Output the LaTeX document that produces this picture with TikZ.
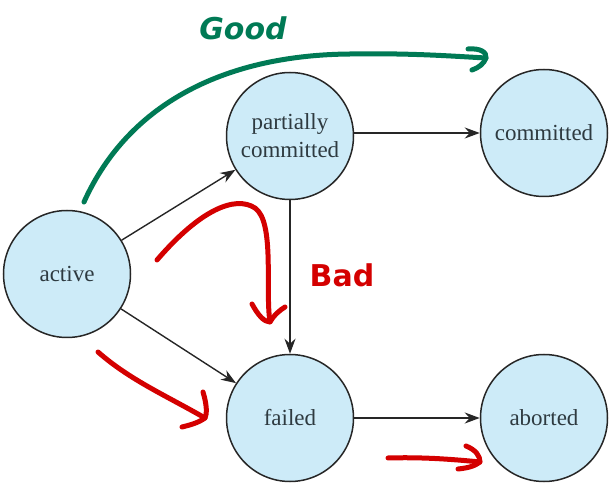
\documentclass[tikz,border=0pt]{standalone}
\usepackage{fontspec}
\setmainfont{Liberation Serif}
\newfontfamily\handfont{DejaVu Sans}
\usetikzlibrary{arrows.meta}
\definecolor{statefill}{HTML}{CDEBF8}
\definecolor{txtgray}{HTML}{2E3A40}
\definecolor{handgreen}{HTML}{007A55}
\definecolor{handred}{HTML}{D40000}
\begin{document}
\begin{tikzpicture}[x=1pt,y=-1pt,
  state/.style={circle,draw=black!85,line width=1.5pt,fill=statefill,minimum size=127pt,inner sep=0pt,
    font=\fontsize{23}{28}\selectfont,text=txtgray,align=center},
  trans/.style={-{Stealth[length=15pt,width=11pt]},line width=1.4pt,draw=black!85},
  greenpen/.style={draw=handgreen,line width=5pt,line cap=round,line join=round},
  redpen/.style={draw=handred,line width=5pt,line cap=round,line join=round}]
\useasboundingbox (0,0) rectangle (611,486);
\node[state] (active) at (67,274) {active};
\node[state] (partial) at (290,136) {partially\\committed};
\node[state] (committed) at (544,133) {committed};
\node[state] (failed) at (290,418) {failed};
\node[state] (aborted) at (544,418) {aborted};
\draw[trans] (active) -- (partial);
\draw[trans] (active) -- (failed);
\draw[trans] (partial.east |- committed) -- (committed.west);
\draw[trans] (partial) -- (failed);
\draw[trans] (failed) -- (aborted);
% green hand arrow
\coordinate (g0) at (84,202);
\coordinate (g1) at (486,58);
\draw[greenpen] (g0) .. controls (130,100) and (230,55) .. (350,54) .. controls (410,53) and (450,56) .. (g1);
\draw[greenpen] (468,49) .. controls (480,48) and (487,52) .. (g1) .. controls (484,64) and (478,68) .. (472,70);
\node[text=handgreen,font=\handfont\bfseries\itshape\fontsize{30}{30}\selectfont] (good) at (243,28) {Good};
% red hand arrows
\coordinate (r0) at (157,260);
\coordinate (r1) at (270,322);
\draw[redpen] (r0) .. controls (200,210) and (235,195) .. (255,208) .. controls (275,222) and (265,290) .. (r1);
\draw[redpen] (252,304) .. controls (258,315) and (264,322) .. (r1) .. controls (274,315) and (280,310) .. (285,307);
\node[text=handred,font=\handfont\bfseries\fontsize{30}{30}\selectfont] (bad) at (342,275) {Bad};
\coordinate (s0) at (98,352);
\coordinate (s1) at (205,418);
\draw[redpen] (s0) .. controls (130,380) and (165,395) .. (s1);
\draw[redpen] (203,392) .. controls (207,405) and (207,414) .. (s1) .. controls (198,423) and (190,425) .. (182,427);
\coordinate (t0) at (388,458);
\coordinate (t1) at (480,462);
\draw[redpen] (t0) .. controls (420,457) and (450,459) .. (t1);
\draw[redpen] (466,446) .. controls (476,450) and (480,456) .. (t1) .. controls (475,466) and (468,468) .. (458,469);
\end{tikzpicture}
\end{document}
